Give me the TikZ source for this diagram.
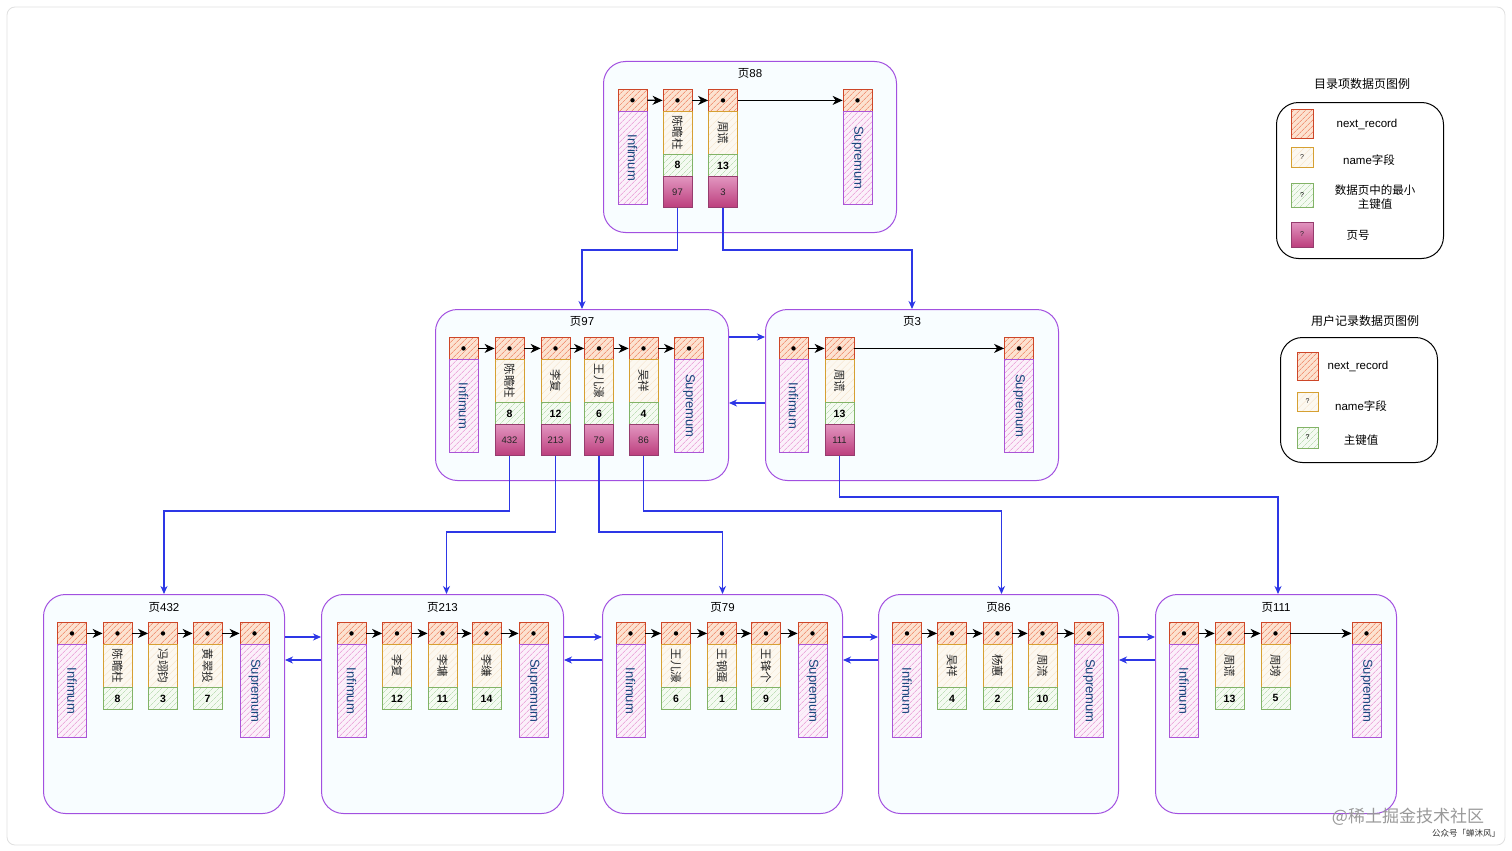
\documentclass[tikz,border=0pt]{standalone}
\usepackage{fontspec}
\setmainfont{Liberation Sans}
\newfontfamily\cjk{Noto Sans CJK SC}
\usetikzlibrary{patterns.meta,arrows.meta,calc}
\definecolor{pagebd}{RGB}{162,80,224}
\definecolor{pagefill}{RGB}{248,253,255}
\definecolor{nrbd}{RGB}{205,70,40}
\definecolor{nrfill}{RGB}{252,226,208}
\definecolor{nrhatch}{RGB}{236,110,75}
\definecolor{nmbd}{RGB}{214,160,50}
\definecolor{nmfill}{RGB}{252,248,240}
\definecolor{nmhatch}{RGB}{245,225,200}
\definecolor{kybd}{RGB}{130,179,102}
\definecolor{kyfill}{RGB}{244,250,241}
\definecolor{kyhatch}{RGB}{165,210,155}
\definecolor{pgbd}{RGB}{150,60,110}
\definecolor{pgtop}{RGB}{226,150,192}
\definecolor{pgbot}{RGB}{188,62,125}
\definecolor{infbd}{RGB}{170,85,215}
\definecolor{inffill}{RGB}{251,240,250}
\definecolor{infhatch}{RGB}{228,135,205}
\definecolor{inftext}{RGB}{25,70,125}
\definecolor{linkblue}{RGB}{45,55,230}
\newcommand\mynr[3]{\node[nr,anchor=north] (#1) at (#2,#3) {}; \fill (#1.center) circle (2.2pt);}
\newcommand\myinf[4]{\mynr{#1}{#2}{#3}\node[infb,anchor=north] (#1b) at (#2,#3+22) {\rotatebox{-90}{#4}};}
\newcommand\myrec[5]{\mynr{#1}{#2}{#3}\node[nm,anchor=north] (#1n) at (#2,#3+22) {\rotatebox{-90}{#4}};\node[ky,anchor=north] (#1k) at (#2,#3+65) {#5};}
\newcommand\myrecp[6]{\myrec{#1}{#2}{#3}{#4}{#5}\node[pg,anchor=north] (#1p) at (#2,#3+87) {#6};}
\begin{document}
\begin{tikzpicture}[x=1pt,y=-1pt,
  page/.style={draw=pagebd, line width=1pt, fill=pagefill, rounded corners=22pt, inner sep=0pt},
  plabel/.style={font=\fontsize{11.5}{11.5}\selectfont, text=black},
  nr/.style={draw=nrbd, line width=0.8pt, preaction={fill=nrfill}, pattern={Lines[angle=45,distance=4pt,line width=0.55pt]}, pattern color=nrhatch, minimum width=29pt, minimum height=22pt, inner sep=0pt},
  nm/.style={draw=nmbd, line width=0.8pt, preaction={fill=nmfill}, pattern={Lines[angle=45,distance=5pt,line width=0.3pt]}, pattern color=nmhatch, minimum width=29pt, minimum height=43pt, inner sep=0pt, font=\cjk\fontsize{11.5}{11.5}\selectfont, text=black!85},
  ky/.style={draw=kybd, line width=0.8pt, preaction={fill=kyfill}, pattern={Lines[angle=45,distance=4pt,line width=0.45pt]}, pattern color=kyhatch, minimum width=29pt, minimum height=22pt, inner sep=0pt, font=\bfseries\fontsize{10.5}{10.5}\selectfont},
  pg/.style={draw=pgbd, line width=0.8pt, top color=pgtop, bottom color=pgbot, minimum width=29pt, minimum height=31pt, inner sep=0pt, font=\fontsize{9.5}{9.5}\selectfont, text=black!85},
  infb/.style={draw=infbd, line width=0.8pt, preaction={fill=inffill}, pattern={Lines[angle=45,distance=4pt,line width=0.5pt]}, pattern color=infhatch, minimum width=29pt, minimum height=93pt, inner sep=0pt, text=inftext, font=\fontsize{13}{13}\selectfont},
  nxt/.style={-{Stealth[length=10pt,width=9pt,inset=3pt]}, line width=1.2pt, draw=black},
  link/.style={-{Stealth[length=8pt,width=7pt,inset=2.5pt]}, line width=1.1pt, draw=linkblue},
  legend/.style={draw=black, line width=1pt, fill=white, rounded corners=22pt, inner sep=0pt},
  ltitle/.style={font=\cjk\fontsize{12}{12}\selectfont},
  ltext/.style={font=\fontsize{11.5}{14}\selectfont, align=center}
]
\useasboundingbox (0,0) rectangle (1512,851);
\fill[white] (0,0) rectangle (1512,851);
\draw[draw=black!12, line width=0.8pt, rounded corners=8pt] (7,7) rectangle (1505,845);

% pages
\node[page, minimum width=293pt, minimum height=171pt, anchor=north west] (p88) at (603,61) {};
\node[page, minimum width=293pt, minimum height=171pt, anchor=north west] (p97) at (435,309) {};
\node[page, minimum width=293pt, minimum height=171pt, anchor=north west] (p3) at (765,309) {};
\node[page, minimum width=241pt, minimum height=219pt, anchor=north west] (p432) at (43,594) {};
\node[page, minimum width=242pt, minimum height=219pt, anchor=north west] (p213) at (321,594) {};
\node[page, minimum width=240pt, minimum height=219pt, anchor=north west] (p79) at (602,594) {};
\node[page, minimum width=240pt, minimum height=219pt, anchor=north west] (p86) at (878,594) {};
\node[page, minimum width=241pt, minimum height=219pt, anchor=north west] (p111) at (1155,594) {};

\node[plabel] (l88) at ([yshift=-12pt]p88.north) {{\cjk 页}88};
\node[plabel] (l97) at ([yshift=-12pt]p97.north) {{\cjk 页}97};
\node[plabel] (l3) at ([yshift=-12pt]p3.north) {{\cjk 页}3};
\node[plabel] (l432) at ([yshift=-13pt]p432.north) {{\cjk 页}432};
\node[plabel] (l213) at ([yshift=-13pt]p213.north) {{\cjk 页}213};
\node[plabel] (l79) at ([yshift=-13pt]p79.north) {{\cjk 页}79};
\node[plabel] (l86) at ([yshift=-13pt]p86.north) {{\cjk 页}86};
\node[plabel] (l111) at ([yshift=-13pt]p111.north) {{\cjk 页}111};

% page 88
\myinf{a0}{632.5}{89}{Infimum}
\myrecp{a1}{677.5}{89}{陈瞻柱}{8}{97}
\myrecp{a2}{723}{89}{周谎}{13}{3}
\myinf{a3}{857.5}{89}{Supremum}
% page 97
\myinf{b0}{463.5}{337}{Infimum}
\myrecp{b1}{509.5}{337}{陈瞻柱}{8}{432}
\myrecp{b2}{555.5}{337}{李复}{12}{213}
\myrecp{b3}{599}{337}{王儿濠}{6}{79}
\myrecp{b4}{643.5}{337}{吴祥}{4}{86}
\myinf{b5}{689}{337}{Supremum}
% page 3
\myinf{c0}{793.5}{337}{Infimum}
\myrecp{c1}{839.5}{337}{周谎}{13}{111}
\myinf{c2}{1019}{337}{Supremum}
% page 432
\myinf{d0}{72}{622}{Infimum}
\myrec{d1}{117.5}{622}{陈瞻柱}{8}
\myrec{d2}{163}{622}{冯翊钧}{3}
\myrec{d3}{207.5}{622}{黄翠投}{7}
\myinf{d4}{254.5}{622}{Supremum}
% page 213
\myinf{e0}{351.5}{622}{Infimum}
\myrec{e1}{397}{622}{李复}{12}
\myrec{e2}{442.5}{622}{李墉}{11}
\myrec{e3}{486.5}{622}{李缣}{14}
\myinf{e4}{533.5}{622}{Supremum}
% page 79
\myinf{f0}{630.5}{622}{Infimum}
\myrec{f1}{676}{622}{王儿濠}{6}
\myrec{f2}{722}{622}{王钢蛋}{1}
\myrec{f3}{766}{622}{王锋个}{9}
\myinf{f4}{812.5}{622}{Supremum}
% page 86
\myinf{g0}{907}{622}{Infimum}
\myrec{g1}{952}{622}{吴祥}{4}
\myrec{g2}{997.5}{622}{杨蕙}{2}
\myrec{g3}{1042.5}{622}{周流}{10}
\myinf{g4}{1089}{622}{Supremum}
% page 111
\myinf{h0}{1184}{622}{Infimum}
\myrec{h1}{1229.5}{622}{周谎}{13}
\myrec{h2}{1275.5}{622}{周塝}{5}
\myinf{h3}{1366.5}{622}{Supremum}

% next_record arrows
\foreach \u/\v in {a0/a1,a1/a2,a2/a3,b0/b1,b1/b2,b2/b3,b3/b4,b4/b5,c0/c1,c1/c2,
  d0/d1,d1/d2,d2/d3,d3/d4,e0/e1,e1/e2,e2/e3,e3/e4,f0/f1,f1/f2,f2/f3,f3/f4,
  g0/g1,g1/g2,g2/g3,g3/g4,h0/h1,h1/h2,h2/h3}
  {\draw[nxt] (\u.east) -- (\v.west);}

% level links
\coordinate (y250) at (0,250);
\coordinate (y497) at (0,497);
\coordinate (y511) at (0,511);
\coordinate (y532) at (0,532);
\draw[link] (a1p.south) -- (a1p.south |- y250) -| (p97.north);
\draw[link] (a2p.south) -- (a2p.south |- y250) -| (p3.north);
\draw[link] (b1p.south) -- (b1p.south |- y511) -| (p432.north);
\draw[link] (b2p.south) -- (b2p.south |- y532) -| ([xshift=4pt]p213.north);
\draw[link] (b3p.south) -- (b3p.south |- y532) -| (p79.north);
\draw[link] (b4p.south) -- (b4p.south |- y511) -| ([xshift=3pt]p86.north);
\draw[link] (c1p.south) -- (c1p.south |- y497) -| ([xshift=2pt]p111.north);

% sibling links
\coordinate (h337) at (0,337);
\coordinate (h403) at (0,403);
\coordinate (h637) at (0,637);
\coordinate (h660) at (0,660);
\draw[link] (p97.east |- h337) -- (p3.west |- h337);
\draw[link] (p3.west |- h403) -- (p97.east |- h403);
\foreach \u/\v in {p432/p213,p213/p79,p79/p86,p86/p111}{
  \draw[link] (\u.east |- h637) -- (\v.west |- h637);
  \draw[link] (\v.west |- h660) -- (\u.east |- h660);
}

% legend 1
\node[ltitle] (lg1t) at (1362,84) {目录项数据页图例};
\node[legend, minimum width=167pt, minimum height=156pt, anchor=north west] (lg1) at (1276,102) {};
\node[nr, minimum width=22pt, minimum height=29pt] (s1) at (1302,123.5) {};
\node[ltext] (t1) at (1367,124) {next\_record};
\node[nm, minimum width=22pt, minimum height=20pt, font=\fontsize{7}{7}\selectfont] (s2) at (1302,157) {?};
\node[ltext] (t2) at (1369,160) {name{\cjk 字段}};
\node[ky, minimum width=22pt, minimum height=24pt, font=\fontsize{7}{7}\selectfont] (s3) at (1302,195) {?};
\node[ltext, font=\cjk\fontsize{11.5}{14}\selectfont] (t3) at (1375,197) {数据页中的最小\\主键值};
\node[pg, minimum width=22pt, minimum height=25pt, font=\fontsize{7}{7}\selectfont] (s4) at (1302,234.5) {?};
\node[ltext, font=\cjk\fontsize{11.5}{14}\selectfont] (t4) at (1358,235) {页号};

% legend 2
\node[ltitle] (lg2t) at (1365,321) {用户记录数据页图例};
\node[legend, minimum width=157pt, minimum height=125pt, anchor=north west] (lg2) at (1280,337) {};
\node[nr, minimum width=21pt, minimum height=28pt] (s5) at (1307.5,366) {};
\node[ltext] (t5) at (1358,366) {next\_record};
\node[nm, minimum width=21pt, minimum height=19pt, font=\fontsize{7}{7}\selectfont] (s6) at (1307.5,401.5) {?};
\node[ltext] (t6) at (1361,406) {name{\cjk 字段}};
\node[ky, minimum width=21pt, minimum height=21pt, font=\fontsize{7}{7}\selectfont] (s7) at (1307.5,437.5) {?};
\node[ltext, font=\cjk\fontsize{11.5}{14}\selectfont] (t7) at (1361,440) {主键值};

% watermark
\node[font=\cjk\fontsize{17}{17}\selectfont, text=black!40] (wm) at (1408,817) {@稀土掘金技术社区};
\node[font=\cjk\fontsize{8.5}{9}\selectfont, text=black!80] (wm2) at (1466,833) {公众号「蝉沐风」};
\end{tikzpicture}
\end{document}
